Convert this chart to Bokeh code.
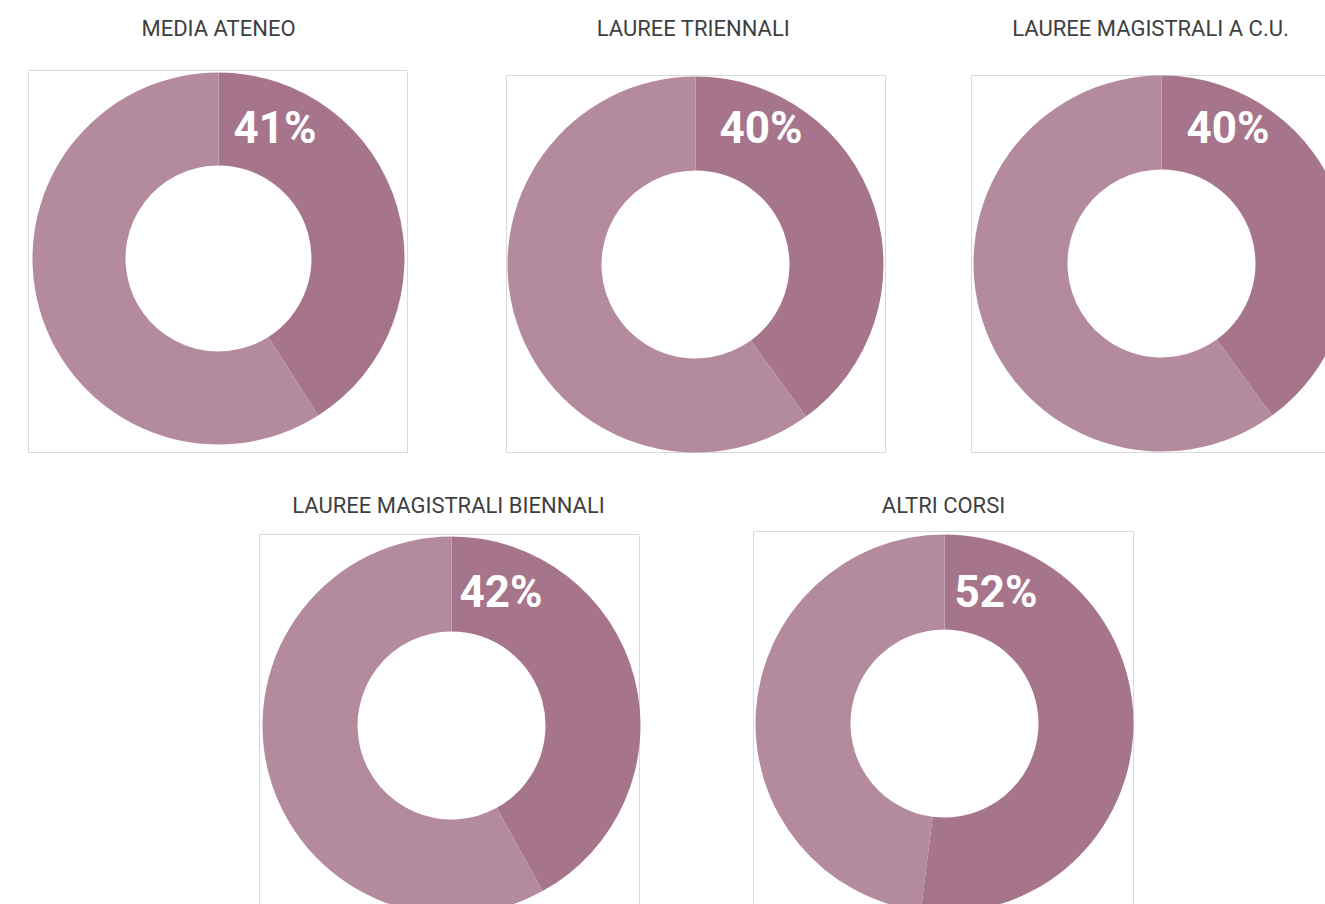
import math
from bokeh.plotting import figure
from bokeh.models import Range1d, ColumnDataSource
from bokeh.core.properties import value
from bokeh.embed import file_html
from bokeh.resources import INLINE

# ---- data ----
titles = ["MEDIA ATENEO", "LAUREE TRIENNALI", "LAUREE MAGISTRALI A C.U.",
          "LAUREE MAGISTRALI BIENNALI", "ALTRI CORSI"]
percent = [41, 40, 40, 42, 52]

# ---- layout (reference pixel coordinates) ----
W, H = 1325, 904
cx = [218, 695, 1161, 451, 944]
cy = [258, 264, 263, 725, 723]
r_out = [186, 188, 188, 189, 189]
r_in = [93, 94, 94, 94, 94]
box_l = [28, 506, 971, 259, 753]
box_r = [407, 885, 1345, 639, 1133]
box_t = [70, 75, 75, 534, 531]
box_b = [452, 452, 452, 912, 912]
title_x = [218, 693, 1150, 448, 943]
title_y = [28, 28, 28, 505, 505]
lab_x = [233, 719, 1186, 459, 954]
lab_y = [127, 127, 127, 591, 591]

DARK = "#a6748b"
LIGHT = "#b48a9f"

p = figure(width=W, height=H, x_range=Range1d(0, W), y_range=Range1d(0, H),
           output_backend="svg", toolbar_location=None, min_border=0)
p.axis.visible = False
p.grid.visible = False
p.outline_line_color = None
p.background_fill_color = "white"

def fy(v):
    return H - v

# boxes
p.quad(left=box_l, right=box_r, top=[fy(v) for v in box_t], bottom=[fy(v) for v in box_b],
       fill_color=None, line_color="#d9d9d9", line_width=1)

# donuts
start = math.pi / 2
dark_end = [start - pc / 100 * 2 * math.pi for pc in percent]
ys = [fy(v) for v in cy]
src = ColumnDataSource(dict(x=cx, y=ys, ri=r_in, ro=r_out, s=[start] * 5, e=dark_end))
p.annular_wedge(x="x", y="y", inner_radius="ri", outer_radius="ro",
                start_angle="s", end_angle="e", direction="clock",
                fill_color=DARK, line_color=None, source=src)
p.annular_wedge(x="x", y="y", inner_radius="ri", outer_radius="ro",
                start_angle="e", end_angle="s", direction="clock",
                fill_color=LIGHT, line_color=None, source=src)

# titles
p.text(x=title_x, y=[fy(v) for v in title_y], text=titles,
       text_align="center", text_baseline="middle",
       text_font=value("Roboto"), text_font_size="22px", text_color="#3f3f3f")

# percentage labels
p.text(x=lab_x, y=[fy(v) for v in lab_y], text=[f"{v}%" for v in percent],
       text_align="left", text_baseline="middle",
       text_font=value("Roboto"), text_font_style="bold",
       text_font_size="44px", text_color="white")

open("out.html", "w").write(file_html(p, INLINE))
